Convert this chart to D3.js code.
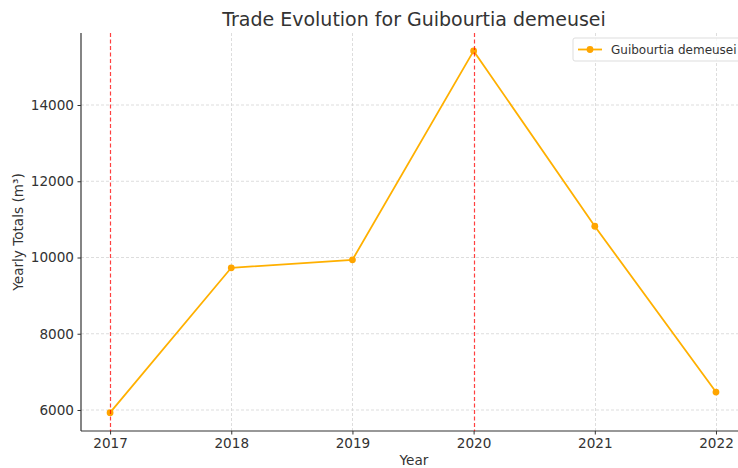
<!DOCTYPE html>
<html lang="en">
<head>
  <meta charset="UTF-8">
  <title>Trade Evolution for Guibourtia demeusei</title>
  <script src="https://d3js.org/d3.v7.min.js"></script>
  <style>
    body { margin: 0; background: #fff; font-family: "DejaVu Sans", sans-serif; }
    .tick text { font-family: "DejaVu Sans", sans-serif; font-size: 13.6px; fill: #333; }
    .axis-label { font-size: 13.6px; fill: #333; }
    .chart-title { font-size: 19px; fill: #333; }
  </style>
</head>
<body>
  <div id="chart"></div>
  <script>
    // Data
    const years = [2017, 2018, 2019, 2020, 2021, 2022];
    const totals = [5930, 9730, 9940, 15420, 10820, 6470];
    const markedYears = [2017, 2020];
    const yTicks = [6000, 8000, 10000, 12000, 14000];
    const seriesName = "Guibourtia demeusei";

    const W = 738, H = 468;
    const margin = { top: 33, right: -1, bottom: 37, left: 81 };
    const width = W - margin.left - margin.right,
          height = H - margin.top - margin.bottom;

    const svg = d3.select("#chart").append("svg")
      .attr("width", W).attr("height", H);
    const g = svg.append("g")
      .attr("transform", `translate(${margin.left},${margin.top})`);

    const x = d3.scaleLinear()
      .domain([2016.76, 2022.19])
      .range([0, width]);
    const y = d3.scaleLinear()
      .domain([5449, 15889])
      .range([height, 0]);
    // pixel-snapped x for the thin vertical lines
    const xs = d => Math.round(x(d)) + 0.5;

    // Grid (skip where the red markers sit)
    g.append("g").selectAll("line").data(years.filter(d => !markedYears.includes(d))).join("line")
      .attr("x1", xs).attr("x2", xs)
      .attr("y1", 0).attr("y2", height)
      .attr("stroke", "#d4d4d4").attr("stroke-width", 0.8)
      .attr("stroke-dasharray", "3,2");
    g.append("g").selectAll("line").data(yTicks).join("line")
      .attr("x1", 0).attr("x2", width)
      .attr("y1", d => y(d)).attr("y2", d => y(d))
      .attr("stroke", "#d4d4d4").attr("stroke-width", 0.8)
      .attr("stroke-dasharray", "3,2");

    // Axes
    const xAxis = g.append("g")
      .attr("transform", `translate(0,${height})`)
      .call(d3.axisBottom(x).tickValues(years).tickFormat(d3.format("d")).tickSize(3.5).tickPadding(3.5));
    const yAxis = g.append("g")
      .call(d3.axisLeft(y).tickValues(yTicks).tickFormat(d3.format("d")).tickSize(3.5).tickPadding(3.5));
    [xAxis, yAxis].forEach(a => {
      a.select(".domain").attr("stroke", "#333").attr("stroke-width", 1.2);
      a.selectAll(".tick line").attr("stroke", "#333");
    });
    xAxis.select(".domain").attr("d", `M0,0H${width}`);
    yAxis.select(".domain").attr("d", `M0,${height}V0`);

    // Line and markers
    const data = years.map((yr, i) => ({ year: yr, value: totals[i] }));
    g.append("path").datum(data)
      .attr("fill", "none")
      .attr("stroke", "#ffb000")
      .attr("stroke-width", 1.8)
      .attr("d", d3.line().x(d => x(d.year)).y(d => y(d.value)));
    g.selectAll(".pt").data(data).join("circle")
      .attr("class", "pt")
      .attr("cx", d => x(d.year)).attr("cy", d => y(d.value))
      .attr("r", 3.4).attr("fill", "#ffa500");

    // Marked years
    g.append("g").selectAll("line").data(markedYears).join("line")
      .attr("x1", xs).attr("x2", xs)
      .attr("y1", 0).attr("y2", height)
      .attr("stroke", "#ff0000").attr("stroke-opacity", 0.75)
      .attr("stroke-width", 1.2).attr("stroke-dasharray", "4,2.5");

    // Labels
    svg.append("text").attr("class", "chart-title")
      .attr("x", 414).attr("y", 26).attr("text-anchor", "middle")
      .text("Trade Evolution for " + seriesName);
    svg.append("text").attr("class", "axis-label")
      .attr("x", 414).attr("y", 465).attr("text-anchor", "middle")
      .text("Year");
    svg.append("text").attr("class", "axis-label")
      .attr("transform", "rotate(-90)")
      .attr("x", -(margin.top + height / 2)).attr("y", 23)
      .attr("text-anchor", "middle")
      .text("Yearly Totals (m³)");

    // Legend
    const lg = svg.append("g").attr("transform", "translate(573,38)");
    lg.append("rect").attr("width", 175).attr("height", 23).attr("rx", 2)
      .attr("fill", "#fff").attr("fill-opacity", 0.8)
      .attr("stroke", "#ddd");
    lg.append("line").attr("x1", 5).attr("x2", 29).attr("y1", 11.5).attr("y2", 11.5)
      .attr("stroke", "#ffb000").attr("stroke-width", 1.8);
    lg.append("circle").attr("cx", 17).attr("cy", 11.5).attr("r", 3.4).attr("fill", "#ffa500");
    lg.append("text").attr("x", 38).attr("y", 15.5)
      .attr("font-size", 12).attr("fill", "#333")
      .text(seriesName);
  </script>
</body>
</html>
